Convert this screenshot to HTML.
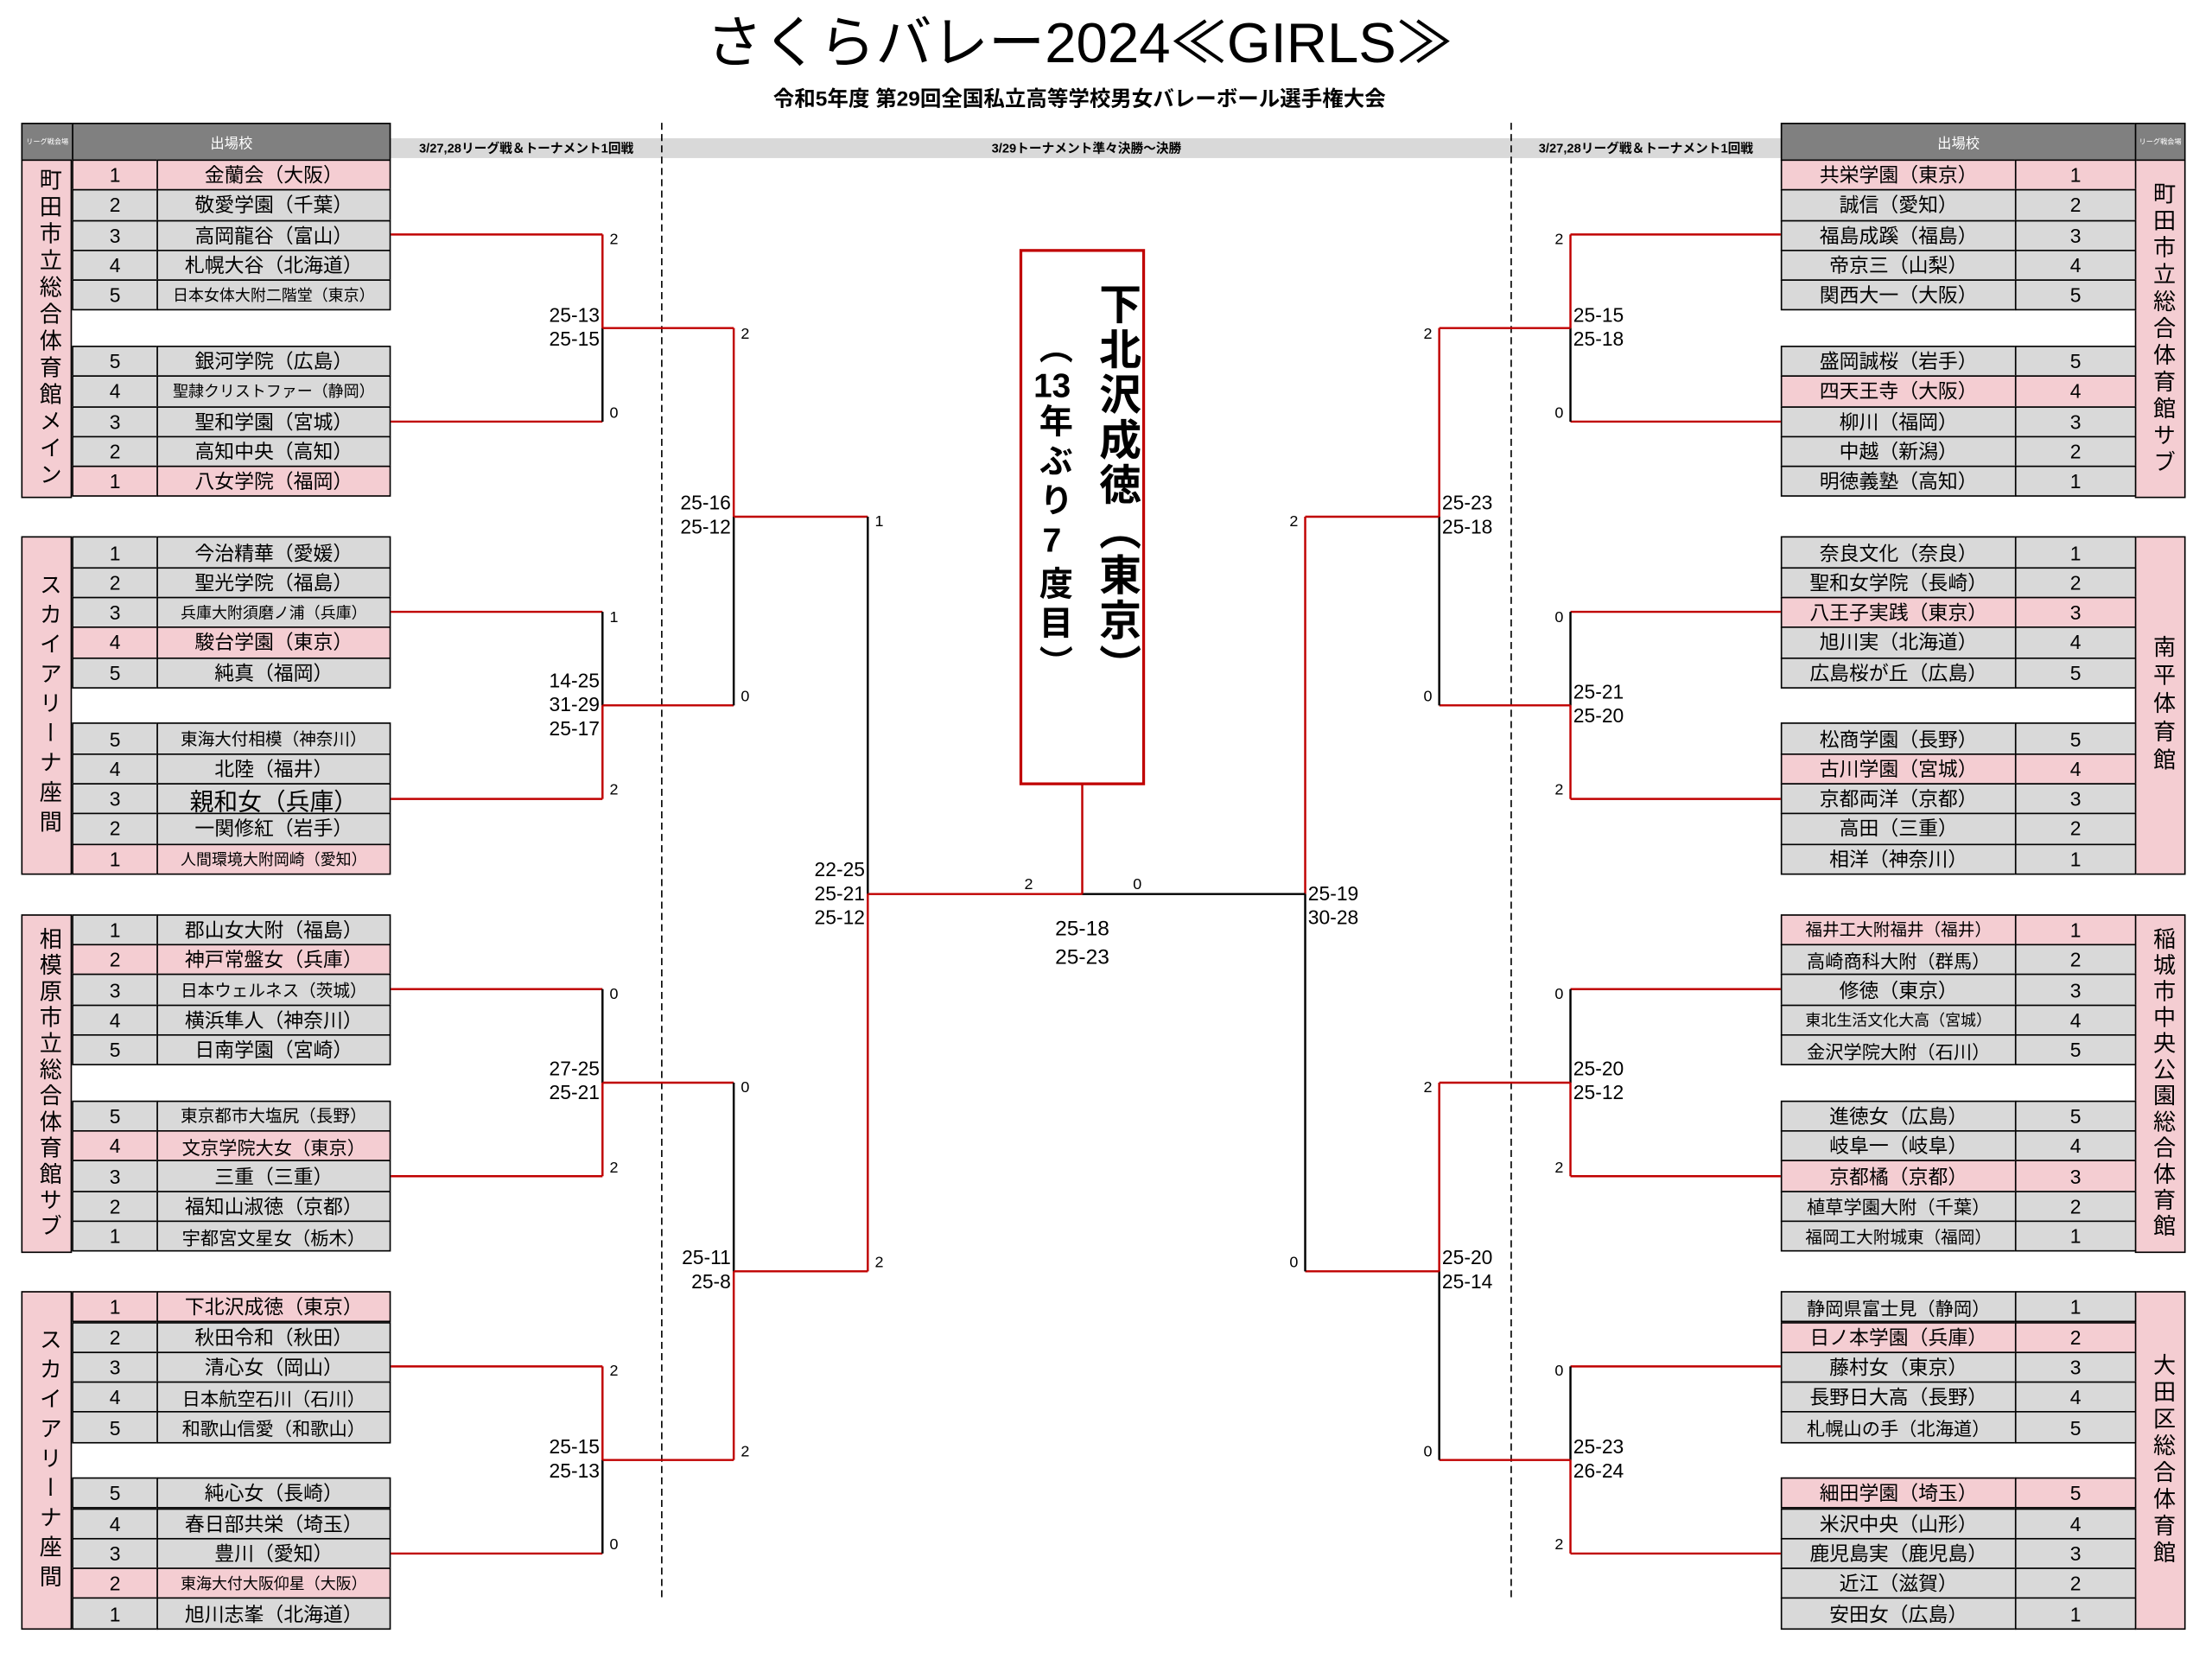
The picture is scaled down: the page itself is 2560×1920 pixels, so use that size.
<!DOCTYPE html>
<html><head><meta charset="utf-8">
<style>
html,body{margin:0;padding:0;background:#fff;}
body{width:2560px;height:1920px;overflow:hidden;position:relative;}
#w{position:absolute;left:0;top:0;width:1560px;height:1170px;transform:scale(1.633);transform-origin:0 0;font-family:"Liberation Sans","Noto Sans CJK JP",sans-serif;color:#000;}
.a{position:absolute;box-sizing:border-box;}
.c{display:flex;align-items:center;justify-content:center;white-space:nowrap;border:1px solid #000;}
.lg{writing-mode:vertical-rl;text-orientation:upright;font-size:16px;display:flex;align-items:center;justify-content:center;border:1.5px solid #000;background:#f4cdd2;}
.s{position:absolute;font-size:14px;line-height:17px;white-space:nowrap;}
.n{position:absolute;font-size:11px;line-height:12px;}
.tcy{text-combine-upright:all;}
</style></head><body><div id="w">
<div class="a" style="left:0;top:8px;width:1530px;text-align:center;font-size:40px;line-height:46px;">さくらバレー2024≪GIRLS≫</div>
<div class="a" style="left:0;top:62px;width:1530px;text-align:center;font-size:15px;font-weight:bold;line-height:18px;">令和5年度 第29回全国私立高等学校男女バレーボール選手権大会</div>
<div class="a" style="left:277px;top:98px;width:985px;height:14px;background:#d9d9d9;"></div>
<div class="a" style="left:277px;top:98px;width:192px;height:14px;font-size:9px;font-weight:bold;text-align:center;line-height:14px;">3/27,28リーグ戦＆トーナメント1回戦</div>
<div class="a" style="left:469px;top:98px;width:602px;height:14px;font-size:9px;font-weight:bold;text-align:center;line-height:14px;">3/29トーナメント準々決勝～決勝</div>
<div class="a" style="left:1071px;top:98px;width:191px;height:14px;font-size:9px;font-weight:bold;text-align:center;line-height:14px;">3/27,28リーグ戦＆トーナメント1回戦</div>
<div id="tb"></div>
<svg class="a" style="left:0;top:0" width="1560" height="1170" id="sv">
<line x1="469" y1="87" x2="469" y2="1135" stroke="#000" stroke-width="1" stroke-dasharray="5,3"/>
<line x1="1071" y1="87" x2="1071" y2="1135" stroke="#000" stroke-width="1" stroke-dasharray="5,3"/>
<rect x="723.5" y="177.5" width="87" height="378" fill="#fff" stroke="#c00000" stroke-width="2"/>
</svg>
<div class="a" style="left:772px;top:200px;width:36px;writing-mode:vertical-rl;text-orientation:upright;font-size:30px;font-weight:bold;line-height:36px;letter-spacing:2px;">下北沢成徳（東京）</div>
<div class="a" style="left:730px;top:234px;width:30px;writing-mode:vertical-rl;text-orientation:upright;font-size:24px;font-weight:bold;line-height:30px;letter-spacing:4px;">（<span class="tcy">13</span>年ぶり7度目）</div>
<div class="s" style="left:717px;top:649px;width:100px;text-align:center;font-size:15px;line-height:20px;">25-18<br>25-23</div>
</div>
<script>
var L=[["町田市立総合体育館メイン",3,["金蘭会（大阪）","敬愛学園（千葉）","高岡龍谷（富山）","札幌大谷（北海道）","日本女体大附二階堂（東京）","銀河学院（広島）","聖隷クリストファー（静岡）","聖和学園（宮城）","高知中央（高知）","八女学院（福岡）"],[0,9]],
["スカイアリーナ座間",5,["今治精華（愛媛）","聖光学院（福島）","兵庫大附須磨ノ浦（兵庫）","駿台学園（東京）","純真（福岡）","東海大付相模（神奈川）","北陸（福井）","親和女（兵庫）","一関修紅（岩手）","人間環境大附岡崎（愛知）"],[3,9]],
["相模原市立総合体育館サブ",2.5,["郡山女大附（福島）","神戸常盤女（兵庫）","日本ウェルネス（茨城）","横浜隼人（神奈川）","日南学園（宮崎）","東京都市大塩尻（長野）","文京学院大女（東京）","三重（三重）","福知山淑徳（京都）","宇都宮文星女（栃木）"],[1,6]],
["スカイアリーナ座間",5,["下北沢成徳（東京）","秋田令和（秋田）","清心女（岡山）","日本航空石川（石川）","和歌山信愛（和歌山）","純心女（長崎）","春日部共栄（埼玉）","豊川（愛知）","東海大付大阪仰星（大阪）","旭川志峯（北海道）"],[0,8]]];
var R=[["町田市立総合体育館サブ",3,["共栄学園（東京）","誠信（愛知）","福島成蹊（福島）","帝京三（山梨）","関西大一（大阪）","盛岡誠桜（岩手）","四天王寺（大阪）","柳川（福岡）","中越（新潟）","明徳義塾（高知）"],[0,6]],
["南平体育館",4,["奈良文化（奈良）","聖和女学院（長崎）","八王子実践（東京）","旭川実（北海道）","広島桜が丘（広島）","松商学園（長野）","古川学園（宮城）","京都両洋（京都）","高田（三重）","相洋（神奈川）"],[2,6]],
["稲城市中央公園総合体育館",2.5,["福井工大附福井（福井）","高崎商科大附（群馬）","修徳（東京）","東北生活文化大高（宮城）","金沢学院大附（石川）","進徳女（広島）","岐阜一（岐阜）","京都橘（京都）","植草学園大附（千葉）","福岡工大附城東（福岡）"],[0,7]],
["大田区総合体育館",3,["静岡県富士見（静岡）","日ノ本学園（兵庫）","藤村女（東京）","長野日大高（長野）","札幌山の手（北海道）","細田学園（埼玉）","米沢中央（山形）","鹿児島実（鹿児島）","近江（滋賀）","安田女（広島）"],[1,5]]];
var W=document.getElementById('w'),h='';
function box(x,y,w,ht,bg,txt,fs,extra){h+='<div class="a c" style="left:'+x+'px;top:'+y+'px;width:'+w+'px;height:'+ht+'px;background:'+bg+';font-size:'+fs+'px;'+(extra||'')+'">'+txt+'</div>';}
var PK='#f4cdd2',GR='#d9d9d9',RH=21.3;
box(15,87,37,27,'#808080','リーグ戦会場',5,'color:#fff;border-width:1.5px;');
box(51,87,226,27,'#808080','出場校',10,'color:#fff;border-width:1.5px;');
box(1262,87,252,27,'#808080','出場校',10,'color:#fff;border-width:1.5px;');
box(1513,87,36,27,'#808080','リーグ戦会場',5,'color:#fff;border-width:1.5px;');
function fsz(n){var l=n.length;return l<=9?14:(l<=10?13:(l<=11?12:11));}
function side(D,right){
 for(var b=0;b<4;b++){var t=113+b*267.4,d=D[b];
  var lx=right?1513:15;
  h+='<div class="a lg" style="left:'+lx+'px;top:'+t+'px;width:36px;height:240px;letter-spacing:'+d[1]+'px;">'+d[0]+'</div>';
  for(var i=0;i<10;i++){var y=t+(i<5?i*RH:132+(i-5)*RH);var num=i<5?i+1:10-i;
   var bg=d[3].indexOf(i)>=0?PK:GR;var nm=d[2][i];var f=fsz(nm);if(nm=="親和女（兵庫）")f=17;
   if(!right){box(51,y,61,RH+1,bg,num,14);box(111,y,166,RH+1,bg,nm,f);}
   else{box(1262,y,167,RH+1,bg,nm,f);box(1428,y,86,RH+1,bg,num,14);}
  }
 }
}
side(L,false);side(R,true);
var s='',RED='#c00000';
function ln(x1,y1,x2,y2,c){s+='<line x1="'+x1+'" y1="'+y1+'" x2="'+x2+'" y2="'+y2+'" stroke="'+c+'" stroke-width="1.5"/>';}
function lab(x,y,t,right,cls){h+='<div class="'+(cls||'n')+'" style="'+(right?'right:'+(1560-x)+'px;text-align:right;':'left:'+x+'px;')+'top:'+(y)+'px;">'+t+'</div>';}
function match(x,y1,y2,topWin,outX,res,scores,right){
 var m=(y1+y2)/2;
 ln(x,y1,x,m,topWin?RED:'#000');ln(x,m,x,y2,topWin?'#000':RED);
 ln(x,m,outX,m,RED);
 var lx=right?x-5:x+5;
 lab(lx,y1-2,res[0],right);lab(lx,y2-12,res[1],right);
 var n=scores.length,sy=m-n*17/2+(n==2?-1:0);
 h+='<div class="s" style="'+(right?'left:'+(x+2)+'px;':'right:'+(1560-x+2)+'px;text-align:right;')+'top:'+sy+'px;">'+scores.join('<br>')+'</div>';
 return m;
}
var ms=[],i;
var LS=[[1,["2","0"],["25-13","25-15"]],[0,["1","2"],["14-25","31-29","25-17"]],[0,["0","2"],["27-25","25-21"]],[1,["2","0"],["25-15","25-13"]]];
var RS=[[1,["2","0"],["25-15","25-18"]],[0,["0","2"],["25-21","25-20"]],[0,["0","2"],["25-20","25-12"]],[0,["0","2"],["25-23","26-24"]]];
var lm=[],rm=[];
for(i=0;i<4;i++){var t=113+i*267.4,a=t+53.2,c=t+185.8;
 ln(277,a,427,a,RED);ln(277,c,427,c,RED);
 lm.push(match(427,a,c,LS[i][0],520,LS[i][1],LS[i][2],false));
 ln(1113,a,1262,a,RED);ln(1113,c,1262,c,RED);
 rm.push(match(1113,a,c,RS[i][0],1020,RS[i][1],RS[i][2],true));
}
var l2a=match(520,lm[0],lm[1],1,615,["2","0"],["25-16","25-12"],false);
var l2b=match(520,lm[2],lm[3],0,615,["0","2"],["25-11","25-8"],false);
var r2a=match(1020,rm[0],rm[1],1,925,["2","0"],["25-23","25-18"],true);
var r2b=match(1020,rm[2],rm[3],1,925,["2","0"],["25-20","25-14"],true);
var fy=(l2a+l2b)/2;
ln(615,l2a,615,fy,'#000');ln(615,fy,615,l2b,RED);
lab(620,l2a-2,"1",false);lab(620,l2b-12,"2",false);
h+='<div class="s" style="right:'+(1560-613)+'px;text-align:right;top:'+(fy-25.5)+'px;">22-25<br>25-21<br>25-12</div>';
ln(925,r2a,925,fy,RED);ln(925,fy,925,r2b,'#000');
lab(920,r2a-2,"2",true);lab(920,r2b-12,"0",true);
h+='<div class="s" style="left:927px;top:'+(fy-9)+'px;">25-19<br>30-28</div>';
ln(615,fy,767,fy,RED);ln(767,fy,925,fy,'#000');ln(767,556,767,fy,RED);
lab(726,fy-13,"2",false);lab(803,fy-13,"0",false);
document.getElementById('sv').insertAdjacentHTML('beforeend',s);
document.getElementById('tb').outerHTML=h;
</script>
</body></html>
